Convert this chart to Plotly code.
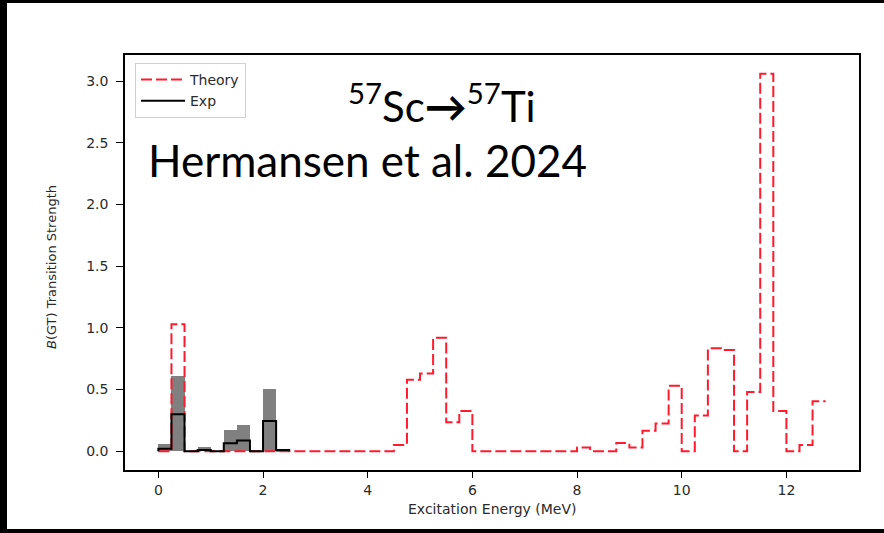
import plotly.graph_objects as go

# Bin layout: 0.25 MeV wide bins starting at 0 MeV
bin_width = 0.25

# Shell-model (theory) B(GT) strength per 0.25 MeV bin, 0 - 12.75 MeV
theory_bgt = [
    0.0, 1.03, 0.0, 0.0, 0.0, 0.0, 0.0, 0.0, 0.0, 0.0,
    0.0, 0.0, 0.0, 0.0, 0.0, 0.0, 0.0, 0.0, 0.05, 0.58,
    0.63, 0.92, 0.235, 0.325, 0.0, 0.0, 0.0, 0.0, 0.0, 0.0,
    0.0, 0.0, 0.03, 0.0, 0.0, 0.065, 0.03, 0.165, 0.225, 0.53,
    0.0, 0.29, 0.835, 0.82, 0.0, 0.48, 3.06, 0.325, 0.0, 0.05,
    0.405,
]

# Measured B(GT) per bin (0 - 2.5 MeV) and its upper bound (grey band)
exp_bgt = [0.02, 0.30, 0.0, 0.01, 0.0, 0.063, 0.087, 0.0, 0.245, 0.01]
exp_upper = [0.06, 0.61, 0.0, 0.03, 0.0, 0.17, 0.21, 0.0, 0.50, 0.01]

x_ticks = [0, 2, 4, 6, 8, 10, 12]
y_ticks = [0.0, 0.5, 1.0, 1.5, 2.0, 2.5, 3.0]


def step_xy(values, start=0.0):
    xs = [start + i * bin_width for i in range(len(values))]
    xs.append(start + len(values) * bin_width)
    ys = list(values) + [values[-1]]
    return xs, ys


W, H = 884, 533
ML, MR, MT, MB = 125, 25, 55, 63
PW, PH = W - ML - MR, H - MT - MB


def px_x(p):
    return (p - ML) / PW


def px_y(p):
    return (H - MB - p) / PH


fig = go.Figure()

exp_centers = [i * bin_width + bin_width / 2 for i in range(len(exp_upper))]
fig.add_trace(go.Bar(
    x=exp_centers, y=exp_upper, width=bin_width,
    marker=dict(color="#808080", line=dict(width=0)),
    showlegend=False, hoverinfo="skip",
))

tx, ty = step_xy(theory_bgt)
fig.add_trace(go.Scatter(
    x=tx, y=ty, mode="lines", name="Theory",
    line=dict(color="#ff1a2e", width=2, dash="11px,4px", shape="hv"),
))

ex, ey = step_xy(exp_bgt)
ex = [ex[0]] + ex + [ex[-1]]
ey = [0.0] + ey[:-1] + [ey[-2], 0.0]
fig.add_trace(go.Scatter(
    x=ex, y=ey, mode="lines", name="Exp",
    line=dict(color="black", width=2, shape="hv"),
))

axis_font = dict(family="DejaVu Sans", size=14, color="#2a2a2a")

fig.update_layout(
    width=W, height=H,
    margin=dict(l=ML, r=MR, t=MT, b=MB),
    paper_bgcolor="white", plot_bgcolor="white",
    barmode="overlay", bargap=0,
    showlegend=True,
    legend=dict(
        x=px_x(135), y=px_y(63), xanchor="left", yanchor="top",
        bgcolor="white", bordercolor="#d0d0d0", borderwidth=1,
        font=dict(family="DejaVu Sans", size=14, color="#2a2a2a"),
        tracegroupgap=0, itemwidth=44,
    ),
    xaxis=dict(
        range=[-0.6375, 13.3875], tickvals=x_ticks,
        showline=True, mirror=True, linecolor="black", linewidth=1.6,
        ticks="outside", ticklen=6, tickwidth=1.4, tickcolor="black",
        showgrid=False, zeroline=False, tickfont=axis_font,
    ),
    yaxis=dict(
        range=[-0.153, 3.213], tickvals=y_ticks, tickformat=".1f",
        showline=True, mirror=True, linecolor="black", linewidth=1.6,
        ticks="outside", ticklen=7, tickwidth=1.4, tickcolor="black",
        ticklabelstandoff=5,
        showgrid=False, zeroline=False, tickfont=axis_font,
    ),
    annotations=[
        dict(text="Excitation Energy (MeV)", xref="paper", yref="paper",
             x=px_x(492), y=px_y(509), xanchor="center", yanchor="middle",
             showarrow=False,
             font=dict(family="DejaVu Sans", size=14, color="#2a2a2a")),
        dict(text="<i>B</i>(GT) Transition Strength", xref="paper", yref="paper",
             x=px_x(51), y=px_y(267), xanchor="center", yanchor="middle",
             showarrow=False, textangle=-90,
             font=dict(family="DejaVu Sans", size=13, color="#2a2a2a")),
        dict(text="<sup>57</sup>Sc<b>→</b><sup>57</sup>Ti", xref="paper", yref="paper",
             x=px_x(442), y=px_y(103), xanchor="center", yanchor="middle",
             showarrow=False,
             font=dict(family="Lato", size=42, color="black")),
        dict(text="Hermansen et al. 2024", xref="paper", yref="paper",
             x=px_x(146), y=px_y(160), xanchor="left", yanchor="middle",
             showarrow=False,
             font=dict(family="Lato", size=44, color="black")),
    ],
    shapes=[
        # dark frame around the slide
        dict(type="rect", xref="paper", yref="paper", layer="above",
             x0=px_x(0), x1=px_x(7), y0=px_y(H), y1=px_y(0),
             fillcolor="black", line=dict(width=0)),
        dict(type="rect", xref="paper", yref="paper", layer="above",
             x0=px_x(0), x1=px_x(W), y0=px_y(3), y1=px_y(0),
             fillcolor="black", line=dict(width=0)),
        dict(type="rect", xref="paper", yref="paper", layer="above",
             x0=px_x(0), x1=px_x(W), y0=px_y(H), y1=px_y(529),
             fillcolor="black", line=dict(width=0)),
    ],
)

fig.write_html("out.html")
